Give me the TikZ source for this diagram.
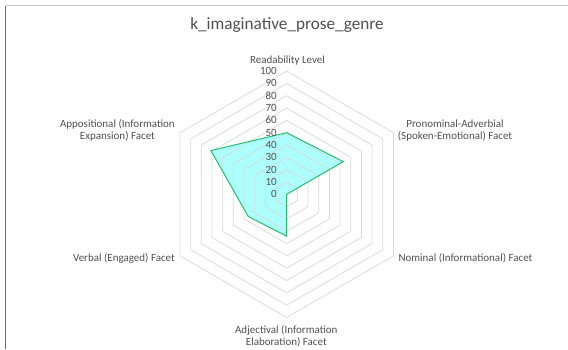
\documentclass[tikz,border=0pt]{standalone}
\usepackage{fontspec}
\setmainfont{Carlito}
\usetikzlibrary{calc}
\definecolor{chartgray}{RGB}{80,80,80}
\definecolor{gridgray}{RGB}{217,217,217}
\definecolor{seriesfill}{RGB}{172,255,252}
\definecolor{seriesline}{RGB}{38,190,110}
\def\radarring[#1](#2)(#3){\draw[#1, shift={(#2)}] (90:#3) -- (30:#3) -- (-30:#3) -- (-90:#3) -- (210:#3) -- (150:#3) -- cycle;}

\begin{document}
\begin{tikzpicture}[x=1pt, y=1pt,
	ring/.style={draw=gridgray, line width=0.75pt},
	axislabel/.style={text=chartgray, font=\fontsize{11}{11.9}\selectfont, inner sep=0pt, align=center},
	scalelabel/.style={text=chartgray, font=\fontsize{11}{11.9}\selectfont, inner sep=0pt, anchor=east, text height=7pt, text depth=0pt}]
			%%%%% START %%%%%
			
			\useasboundingbox (0, 0) rectangle (568, 349);
			\coordinate (ctr) at (286.7, 154.7);
			
			\draw[line width=1pt, color=black!22] (5.5, 343) -- (568, 343);
			\draw[line width=1pt, color=black!58] (5.5, 0) -- (5.5, 343);
			
			\node[text=chartgray, font=\fontsize{17.2}{20}\selectfont, inner sep=0pt, anchor=base] (title) at (287, 319.7) {k\_imaginative\_prose\_genre};
			
			\fill[seriesfill, shift={(ctr)}] (90:61.6) -- (30:65.3) -- (-30:0) -- (-90:41.9) -- (210:44.4) -- (150:87.5) -- cycle;
			
			\radarring[ring](ctr)(12.32);
			\radarring[ring](ctr)(24.64);
			\radarring[ring](ctr)(36.96);
			\radarring[ring](ctr)(49.28);
			\radarring[ring](ctr)(61.6);
			\radarring[ring](ctr)(73.92);
			\radarring[ring](ctr)(86.24);
			\radarring[ring](ctr)(98.56);
			\radarring[ring](ctr)(110.88);
			\radarring[ring](ctr)(123.2);
			
			\draw[seriesline, line width=1pt, line join=miter, shift={(ctr)}] (90:61.6) -- (30:65.3) -- (-30:0) -- (-90:41.9) -- (210:44.4) -- (150:87.5) -- cycle;
			
			\node[scalelabel] (s0) at (277, 154.7) {0};
			\node[scalelabel] (s10) at (277, 167.02) {10};
			\node[scalelabel] (s20) at (277, 179.34) {20};
			\node[scalelabel] (s30) at (277, 191.66) {30};
			\node[scalelabel] (s40) at (277, 203.98) {40};
			\node[scalelabel] (s50) at (277, 216.3) {50};
			\node[scalelabel] (s60) at (277, 228.62) {60};
			\node[scalelabel] (s70) at (277, 240.94) {70};
			\node[scalelabel] (s80) at (277, 253.26) {80};
			\node[scalelabel] (s90) at (277, 265.58) {90};
			\node[scalelabel] (s100) at (277, 277.9) {100};
			
			\node[axislabel, anchor=base] (readability) at (287.5, 286) {Readability Level};
			\node[axislabel, anchor=base west] (pronominal) at (397.7, 209.5) {Pronominal-Adverbial\\(Spoken-Emotional) Facet};
			\node[axislabel, anchor=base west] (nominal) at (398.3, 88) {Nominal (Informational) Facet};
			\node[axislabel, anchor=base] (adjectival) at (286.3, 3.5) {Adjectival (Information\\Elaboration) Facet};
			\node[axislabel, anchor=base east] (verbal) at (175, 88) {Verbal (Engaged) Facet};
			\node[axislabel, anchor=base east] (appositional) at (175, 209.5) {Appositional (Information\\Expansion) Facet};
			
			%%%%% END %%%%%
\end{tikzpicture}
\end{document}
